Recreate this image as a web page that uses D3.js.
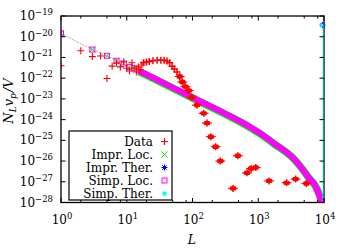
<!DOCTYPE html>
<html>
<head>
<meta charset="utf-8">
<script src="https://d3js.org/d3.v7.min.js"></script>
<style>
  body { margin: 0; background: #fff; }
  text { font-family: "DejaVu Serif", "Liberation Serif", serif; fill: #000; }
</style>
</head>
<body>
<script>
  // measured data (red crosses)
  var dataL = [1, 2, 3, 4, 5, 6, 7, 8, 9, 10, 11, 12, 13, 14, 15, 16, 17,
               18, 20, 22, 25, 29, 33, 37, 41, 45, 49, 53, 58, 64, 70, 78, 88, 98,
               117, 148, 166, 190, 225, 265, 414, 490, 675, 780, 915, 1460, 2700, 3700, 5400];
  var dataV = [4.0e-22, 2.1e-21, 1.1e-21, 1.17e-21, 9.6e-23, 3.8e-22, 5.4e-22, 3.5e-22, 6.2e-22, 3.0e-22,
               2.2e-22, 5.5e-22, 3.0e-22, 2.0e-22, 3.5e-22, 2.5e-22, 4.3e-22,
               5.5e-22, 6.0e-22, 6.3e-22, 6.9e-22, 7.4e-22, 7.4e-22, 7.4e-22, 6.7e-22, 5.6e-22, 3.8e-22,
               2.8e-22, 2.0e-22, 1.2e-22, 6.5e-23, 3.9e-23, 2.5e-23, 1.2e-23,
               5.0e-24, 2.0e-24, 6.8e-25, 1.5e-25, 4.9e-26, 1.0e-26, 4.8e-28, 1.8e-26, 2.7e-27, 4.4e-27,
               4.9e-27, 1.1e-27, 8.9e-28, 1.35e-27, 8.3e-28];

  // local approximations
  var locL = [1, 3, 5, 7, 9, 11, 13, 15, 20, 30, 50, 100, 300, 700, 1000, 1650, 3500, 5600, 8200, 9250, 9700];
  var imprLocV = [1.45e-20, 2.4e-21, 1.2e-21, 6.9e-22, 5.1e-22, 3.5e-22, 3.0e-22, 2.3e-22, 1.5e-22, 7.9e-23,
                  3.5e-23, 1.17e-23, 2.1e-24, 5.0e-25, 2.5e-25, 8.0e-26, 1.26e-26, 1.9e-27, 2.95e-28, 6.8e-29, 1.6e-29];
  var simpLocV = [1.45e-20, 2.4e-21, 1.2e-21, 6.9e-22, 5.1e-22, 3.5e-22, 3.0e-22, 2.3e-22, 1.5e-22, 7.9e-23,
                  3.5e-23, 1.17e-23, 2.1e-24, 5.0e-25, 2.5e-25, 8.0e-26, 1.26e-26, 1.9e-27, 2.95e-28, 6.8e-29, 1.6e-29];

  // thermal approximations
  var imprTherL = [10000];
  var imprTherV = [3.7e-20];
  var simpTherL = [9999, 10000];
  var simpTherV = [1e-35, 3.6e-20];

  var xTickExp = [0, 1, 2, 3, 4];
  var xMinor = [2, 5, 8];
  var yTickExp = [-28, -27, -26, -25, -24, -23, -22, -21, -20, -19];
  var legendLabels = ["Data", "Impr. Loc.", "Impr. Ther.", "Simp. Loc.", "Simp. Ther."];

  var W = 350, H = 250;
  var svg = d3.select("body").append("svg").attr("width", W).attr("height", H);

  var x = d3.scaleLog().domain([1, 1e4]).range([61, 324]);
  var y = d3.scaleLog().domain([1e-28, 1e-19]).range([202.5, 16]);

  svg.append("defs").append("clipPath").attr("id", "clip")
    .append("rect").attr("x", 61).attr("y", 16).attr("width", 263).attr("height", 186.5);

  var plot = svg.append("g").attr("clip-path", "url(#clip)");

  var pair = function(L, V) { return L.map(function(d, i) { return [d, V[i]]; }); };
  var line = d3.line().x(function(d) { return x(d[0]); }).y(function(d) { return y(d[1]); });
  var band = d3.line().x(function(d) { return x(d[0]); }).y(function(d) { return y(d[1]); }).curve(d3.curveMonotoneX);

  var imprLoc = pair(locL, imprLocV), simpLoc = pair(locL, simpLocV);

  // thin connecting line of the local curves
  plot.append("path").datum(simpLoc)
    .attr("d", line)
    .attr("fill", "none").attr("stroke", "#888").attr("stroke-width", 0.7).attr("stroke-dasharray", "2,1");

  // dense parts of the local curves form bands
  plot.append("path").datum(imprLoc.filter(function(d) { return d[0] >= 15; }))
    .attr("d", band).attr("fill", "none").attr("stroke", "#00ee00").attr("stroke-width", 7.5)
    .attr("transform", "translate(0.6,0.8)");
  plot.append("path").datum(simpLoc.filter(function(d) { return d[0] >= 15; }))
    .attr("d", band).attr("fill", "none").attr("stroke", "#ff00ff").attr("stroke-width", 6);

  var symX = "M-3,-3L3,3M-3,3L3,-3";
  var symPlus = "M-3.5,0H3.5M0,-3.5V3.5";
  var symStar = "M-3,0H3M0,-3V3M-2.2,-2.2L2.2,2.2M-2.2,2.2L2.2,-2.2";

  plot.selectAll(".il").data(imprLoc.filter(function(d) { return d[0] < 15; })).enter().append("path")
    .attr("d", symX).attr("transform", function(d) { return "translate(" + x(d[0]) + "," + y(d[1]) + ")"; })
    .attr("stroke", "#00ee00").attr("fill", "none").attr("stroke-width", 1);
  plot.selectAll(".sl").data(simpLoc.filter(function(d) { return d[0] < 15; })).enter().append("rect")
    .attr("x", function(d) { return x(d[0]) - 2.5; }).attr("y", function(d) { return y(d[1]) - 2.5; })
    .attr("width", 5).attr("height", 5)
    .attr("stroke", "#ff00ff").attr("fill", "none").attr("stroke-width", 1);

  // data
  var data = pair(dataL, dataV);
  plot.selectAll(".dp").data(data).enter().append("path")
    .attr("d", symPlus).attr("transform", function(d) { return "translate(" + x(d[0]) + "," + y(d[1]) + ")"; })
    .attr("stroke", "#ff0000").attr("fill", "none").attr("stroke-width", function(d) { return d[0] >= 18 ? 1.5 : 1.1; });
  plot.selectAll(".db").data(data.filter(function(d) { return d[0] >= 60; })).enter().append("rect")
    .attr("x", function(d) { return x(d[0]) - 3; }).attr("y", function(d) { return y(d[1]) - 2.2; })
    .attr("width", 6).attr("height", 4.4).attr("rx", 1).attr("fill", "#ff0000");
  plot.selectAll(".de").data(data.filter(function(d) { return d[0] >= 60; })).enter().append("path")
    .attr("d", "M-5,0H5").attr("transform", function(d) { return "translate(" + x(d[0]) + "," + y(d[1]) + ")"; })
    .attr("stroke", "#ff0000").attr("stroke-width", 1);

  // frame
  svg.append("rect").attr("x", 61).attr("y", 16).attr("width", 263).attr("height", 186.5)
    .attr("fill", "none").attr("stroke", "#000").attr("stroke-width", 1.3);

  // thermal (drawn last, at the right edge)
  svg.append("path").datum(pair(simpTherL, simpTherV).map(function(d) { return [d[0], Math.max(d[1], 1e-28)]; }))
    .attr("d", line).attr("transform", "translate(-1,0)")
    .attr("stroke", "#00ffff").attr("stroke-width", 1).attr("fill", "none").attr("stroke-dasharray", "3,1");
  svg.selectAll(".it").data(pair(imprTherL, imprTherV)).enter().append("path")
    .attr("d", symStar).attr("transform", function(d) { return "translate(" + (x(d[0]) - 1.5) + "," + y(d[1]) + ")"; })
    .attr("stroke", "#0000ff").attr("fill", "none").attr("stroke-width", 1);
  svg.selectAll(".st").data(pair(simpTherL, simpTherV).slice(-1)).enter().append("rect")
    .attr("x", function(d) { return x(d[0]) - 3.5; }).attr("y", function(d) { return y(d[1]) - 1.5; })
    .attr("width", 3).attr("height", 3).attr("fill", "#00ffff");

  // ticks
  var ax = svg.append("g").attr("stroke", "#000").attr("stroke-width", 1);
  xTickExp.forEach(function(e) {
    var px = x(Math.pow(10, e));
    ax.append("line").attr("x1", px).attr("x2", px).attr("y1", 202.5).attr("y2", 198);
    ax.append("line").attr("x1", px).attr("x2", px).attr("y1", 16).attr("y2", 20.5);
    if (e < 4) xMinor.forEach(function(m) {
      var mx = x(m * Math.pow(10, e));
      ax.append("line").attr("x1", mx).attr("x2", mx).attr("y1", 202.5).attr("y2", 200);
      ax.append("line").attr("x1", mx).attr("x2", mx).attr("y1", 16).attr("y2", 18.5);
    });
  });
  yTickExp.forEach(function(e) {
    var py = y(Math.pow(10, e));
    ax.append("line").attr("x1", 61).attr("x2", 65.5).attr("y1", py).attr("y2", py);
    ax.append("line").attr("x1", 324).attr("x2", 319.5).attr("y1", py).attr("y2", py);
  });

  // tick labels
  xTickExp.forEach(function(e) {
    var t = svg.append("text").attr("x", x(Math.pow(10, e)) + 1).attr("y", 224)
      .attr("text-anchor", "middle").attr("font-size", 12);
    t.append("tspan").text("10");
    t.append("tspan").attr("dy", -5).attr("font-size", 8.5).text(String(e));
  });
  yTickExp.forEach(function(e) {
    var t = svg.append("text").attr("x", 53).attr("y", y(Math.pow(10, e)) + 4)
      .attr("text-anchor", "end").attr("font-size", 12);
    t.append("tspan").text("10");
    t.append("tspan").attr("dy", -5).attr("font-size", 8.5).text("\u2212" + String(-e));
  });

  // axis titles
  svg.append("text").attr("x", 192).attr("y", 244).attr("text-anchor", "middle")
    .attr("font-size", 12.5).attr("font-style", "italic").text("L");
  var yl = svg.append("text").attr("transform", "translate(13,101) rotate(-90)")
    .attr("text-anchor", "middle").attr("font-size", 13).attr("font-style", "italic");
  yl.append("tspan").text("N");
  yl.append("tspan").attr("dy", 3).attr("font-size", 9).text("L");
  yl.append("tspan").attr("dy", -3).text("v");
  yl.append("tspan").attr("dy", 3).attr("font-size", 9).text("p");
  yl.append("tspan").attr("dy", -3).attr("dx", 1).text("/V");

  // legend
  var lg = svg.append("g");
  lg.append("rect").attr("x", 69).attr("y", 131).attr("width", 103).attr("height", 69)
    .attr("fill", "#fff").attr("stroke", "#000").attr("stroke-width", 1.2);
  var rowY = function(i) { return 141.5 + i * 13; };
  legendLabels.forEach(function(lab, i) {
    lg.append("text").attr("x", 153).attr("y", rowY(i) + 4).attr("text-anchor", "end")
      .attr("font-size", 12).text(lab);
  });
  var mx = 164.5;
  lg.append("path").attr("d", symPlus).attr("transform", "translate(" + mx + "," + rowY(0) + ")")
    .attr("stroke", "#ff0000").attr("stroke-width", 1.2);
  lg.append("path").attr("d", symX).attr("transform", "translate(" + mx + "," + rowY(1) + ")")
    .attr("stroke", "#00ee00").attr("stroke-width", 1);
  lg.append("path").attr("d", symStar).attr("transform", "translate(" + mx + "," + rowY(2) + ")")
    .attr("stroke", "#0000ff").attr("stroke-width", 1);
  lg.append("rect").attr("x", mx - 2.5).attr("y", rowY(3) - 2.5).attr("width", 5).attr("height", 5)
    .attr("fill", "none").attr("stroke", "#ff00ff").attr("stroke-width", 1);
  lg.append("rect").attr("x", mx - 2).attr("y", rowY(4) - 2).attr("width", 4).attr("height", 4)
    .attr("fill", "#00ffff");
</script>
</body>
</html>
